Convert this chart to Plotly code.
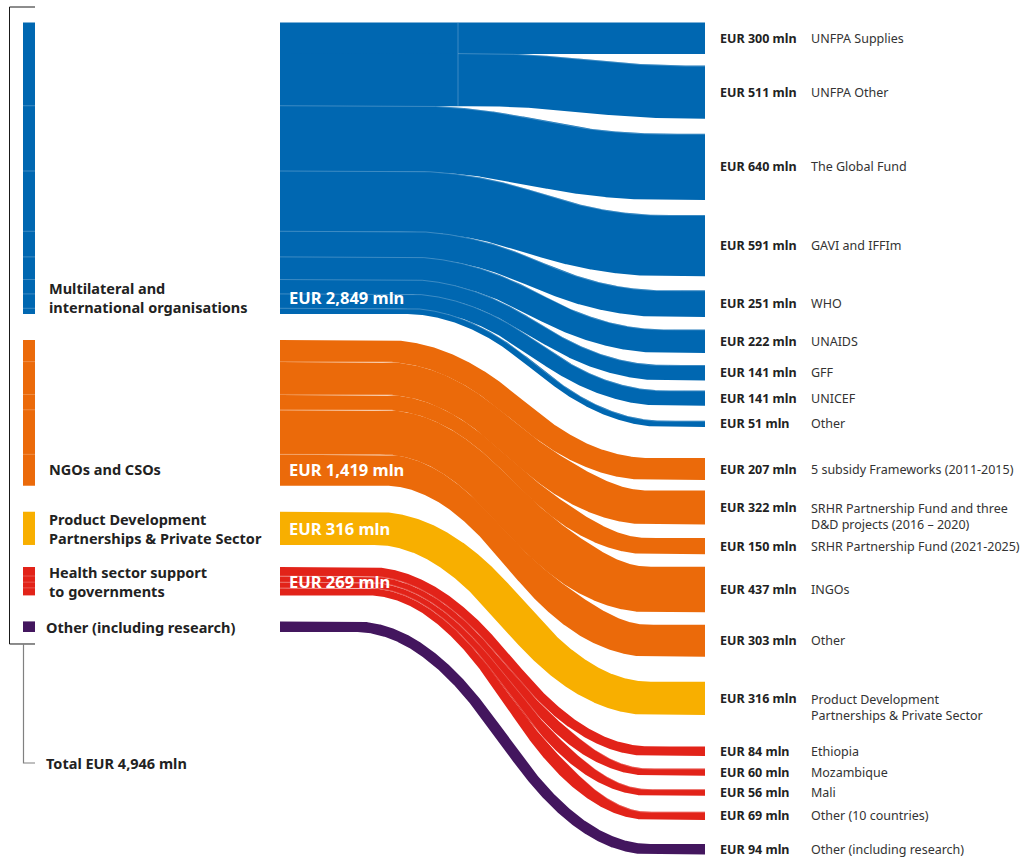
import numpy as np
import plotly.graph_objects as go

# ---------------- data ----------------
source_names = [
    "Multilateral and<br>international organisations",
    "NGOs and CSOs",
    "Product Development<br>Partnerships & Private Sector",
    "Health sector support<br>to governments",
    "Other (including research)",
]
source_value_labels = ["EUR 2,849 mln", "EUR 1,419 mln", "EUR 316 mln", "EUR 269 mln", ""]
total_label = "Total EUR 4,946 mln"

target_names = [
    "UNFPA Supplies", "UNFPA Other", "The Global Fund", "GAVI and IFFIm", "WHO",
    "UNAIDS", "GFF", "UNICEF", "Other",
    "5 subsidy Frameworks (2011-2015)",
    "SRHR Partnership Fund and three<br>D&D projects (2016 – 2020)",
    "SRHR Partnership Fund (2021-2025)", "INGOs", "Other",
    "Product Development<br>Partnerships & Private Sector",
    "Ethiopia", "Mozambique", "Mali", "Other (10 countries)",
    "Other (including research)",
]
target_values = [300, 511, 640, 591, 251, 222, 141, 141, 51,
                 207, 322, 150, 437, 303,
                 316,
                 84, 60, 56, 69,
                 94]
target_source = [0] * 9 + [1] * 5 + [2] + [3] * 4 + [4]

# ---------------- layout / style parameters ----------------
W, H = 1025, 858
K = 0.102            # pixels per EUR mln
TOP = 23             # pixel offset of the first node
source_gaps_px = [27, 27, 23, 27]
target_gaps_px = [12.5, 16, 16, 15, 13.5, 13, 11, 16, 32,
                  11.5, 14.5, 13.5, 13.5, 26, 32.5, 13.5, 14.5, 17, 25]
colors = ["#0067b1", "#eb6a0a", "#f8af00", "#e22319", "#43165e"]
curve_x = [(405, 665), (385, 650), (375, 650), (368, 650), (355, 650)]
fan_x = [None, (522, 640), None, (520, 645), None]   # where bundled bands open up
curve_override = {1: (475, 695)}
split_x = {1: 458}
EASE = 0.45
PAD = 0.5            # slight overlap between neighbouring bands (avoids seams)
BAR_X = (23, 35)
MID_X0, RIGHT_X = 280, 705
source_label_x = [47, 47, 47, 47, 44]
TXT = "#222222"
FONT = "Noto Sans"
SEP = "rgba(255,255,255,0.3)"


def to_y(px):
    return (np.asarray(px, dtype=float) - TOP) / K


def ease(t, e=EASE):
    s = 1.0 / (1.0 - e)
    t = np.clip(t, 0, 1)
    return np.where(t < e, s * t ** 2 / (2 * e),
                    np.where(t > 1 - e, 1 - s * (1 - t) ** 2 / (2 * e), s * (t - e / 2)))


n = len(target_values)
group_sums = [sum(v for v, s in zip(target_values, target_source) if s == g) for g in range(5)]
group_top = []
y = TOP
for g in range(5):
    group_top.append(y)
    y += group_sums[g] * K
    if g < 4:
        y += source_gaps_px[g]
group_bottom = [group_top[g] + group_sums[g] * K for g in range(5)]

src_y0 = []
cursor = list(group_top)
for v, g in zip(target_values, target_source):
    src_y0.append(cursor[g])
    cursor[g] += v * K

tgt_y0 = []
t = TOP
for i, v in enumerate(target_values):
    tgt_y0.append(t)
    t += v * K
    if i < n - 1:
        t += target_gaps_px[i]

xs = np.linspace(MID_X0, RIGHT_X, 700)


def own_edges(i, pad):
    """Top and bottom edge of band i following its own eased path (constant stroke width)."""
    g = target_source[i]
    h = target_values[i] * K / 2
    cs = src_y0[i] + h
    ct = tgt_y0[i] + h
    xa, xb = curve_override.get(i, curve_x[g])
    yc = cs + (ct - cs) * ease((xs - xa) / (xb - xa))
    d = np.gradient(yc, xs)
    nrm = np.sqrt(1 + d ** 2)
    hh = h + pad
    return (np.array([xs + hh * d / nrm, yc - hh / nrm]),
            np.array([xs - hh * d / nrm, yc + hh / nrm]))


def band_edges(i, pad):
    g = target_source[i]
    top, bot = own_edges(i, pad)
    if fan_x[g] is not None and i > 0 and target_source[i - 1] == g:
        # stay glued to the band above until the fan-out, then open up
        _, prev_bot = own_edges(i - 1, pad)
        fs, fe = fan_x[g]
        w = ease((xs - fs) / (fe - fs), 0.5)
        top = (1 - w) * prev_bot + w * top
    return top, bot


fig = go.Figure()
for i in range(n):
    g = target_source[i]
    top, bot = band_edges(i, PAD)
    fig.add_trace(go.Scatter(x=np.concatenate([top[0], bot[0][::-1]]),
                             y=to_y(np.concatenate([top[1], bot[1][::-1]])),
                             mode="lines", fill="toself", fillcolor=colors[g],
                             line=dict(width=0, color=colors[g]),
                             hoverinfo="skip", showlegend=False))
    y0, y1 = src_y0[i] - PAD, src_y0[i] + target_values[i] * K + PAD
    fig.add_trace(go.Scatter(x=[BAR_X[0], BAR_X[1], BAR_X[1], BAR_X[0], BAR_X[0]],
                             y=to_y([y0, y0, y1, y1, y0]),
                             mode="lines", fill="toself", fillcolor=colors[g],
                             line=dict(width=0, color=colors[g]),
                             hoverinfo="skip", showlegend=False))

# faint separators between stacked bands
for i in range(n):
    g = target_source[i]
    if i == 0 or target_source[i - 1] != g:
        continue
    top, _ = band_edges(i, 0.0)
    tx, ty = top
    xa, xb = curve_x[g]
    mask = np.ones_like(tx, dtype=bool)
    if i in split_x:
        mask &= tx >= split_x[i]
    if g == 1:
        mask &= tx <= xa + 8
    fig.add_trace(go.Scatter(x=tx[mask], y=to_y(ty[mask]), mode="lines",
                             line=dict(width=0.8, color=SEP), hoverinfo="skip", showlegend=False))
    if i not in split_x:
        fig.add_trace(go.Scatter(x=list(BAR_X), y=to_y([src_y0[i], src_y0[i]]), mode="lines",
                                 line=dict(width=0.8, color=SEP), hoverinfo="skip", showlegend=False))
    else:
        fig.add_trace(go.Scatter(x=[split_x[i], split_x[i]],
                                 y=to_y([group_top[g], src_y0[i + 1]]), mode="lines",
                                 line=dict(width=0.8, color=SEP), hoverinfo="skip", showlegend=False))

# bracket lines
br_top = TOP - 16
br_bot = group_bottom[4] + 12.5
total_y = br_bot + 119
fig.add_trace(go.Scatter(x=[BAR_X[1], 9.5, 9.5, BAR_X[1]], y=to_y([br_top, br_top, br_bot, br_bot]),
                         mode="lines", line=dict(width=1, color="#1a1a1a"),
                         hoverinfo="skip", showlegend=False))
fig.add_trace(go.Scatter(x=[23.5, 23.5, BAR_X[1]], y=to_y([br_bot, total_y, total_y]),
                         mode="lines", line=dict(width=1.2, color="#808080"),
                         hoverinfo="skip", showlegend=False))

annotations = []
for g in range(5):
    height = group_bottom[g] - group_top[g]
    if height > 60:
        cy = group_bottom[g] - 16
    else:
        cy = (group_top[g] + group_bottom[g]) / 2
    annotations.append(dict(x=source_label_x[g], y=float(to_y(cy)), text=f"<b>{source_names[g]}</b>",
                            xanchor="left", yanchor="middle", align="left", showarrow=False,
                            font=dict(family=FONT, size=14.5, color=TXT)))
    if source_value_labels[g]:
        annotations.append(dict(x=287, y=float(to_y(cy)), text=f"<b>{source_value_labels[g]}</b>",
                                xanchor="left", yanchor="middle", showarrow=False,
                                font=dict(family=FONT, size=16.5, color="white")))
annotations.append(dict(x=44, y=float(to_y(total_y)), text=f"<b>{total_label}</b>",
                        xanchor="left", yanchor="middle", showarrow=False,
                        font=dict(family=FONT, size=14.5, color=TXT)))

for i, v in enumerate(target_values):
    cy = tgt_y0[i] + v * K / 2
    annotations.append(dict(x=718, y=float(to_y(cy)), text=f"<b>EUR {v} mln</b>",
                            xanchor="left", yanchor="middle", showarrow=False,
                            font=dict(family=FONT, size=12.5, color=TXT)))
    if "<br>" in target_names[i]:
        annotations.append(dict(x=809, y=float(to_y(cy - 9.5)), text=target_names[i],
                                xanchor="left", yanchor="top", align="left", showarrow=False,
                                font=dict(family=FONT, size=12.5, color="#333333")))
    else:
        annotations.append(dict(x=809, y=float(to_y(cy)), text=target_names[i],
                                xanchor="left", yanchor="middle", showarrow=False,
                                font=dict(family=FONT, size=12.5, color="#333333")))

fig.update_layout(
    width=W, height=H, margin=dict(l=0, r=0, t=0, b=0),
    paper_bgcolor="white", plot_bgcolor="white",
    xaxis=dict(range=[0, W], visible=False, fixedrange=True),
    yaxis=dict(range=[float(to_y(H)), float(to_y(0))], visible=False, fixedrange=True),
    annotations=annotations, showlegend=False,
)
fig.write_html("out.html")
